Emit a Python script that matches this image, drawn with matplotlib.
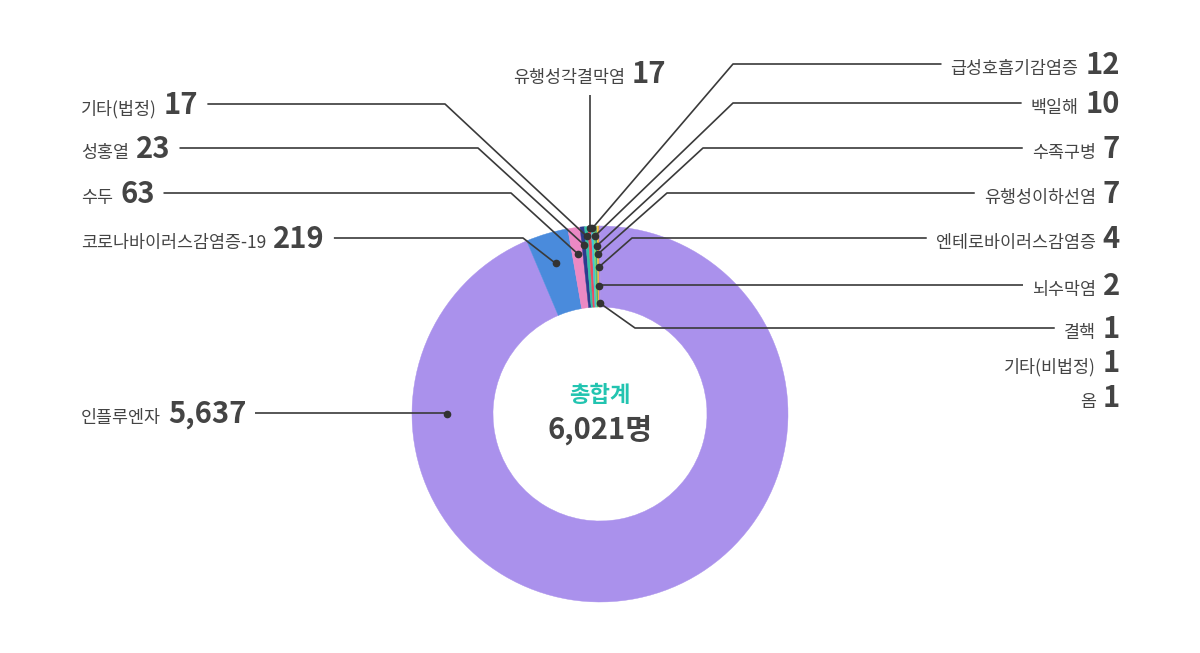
import numpy as np
import matplotlib.pyplot as plt

plt.rcParams['font.family'] = ['Noto Sans CJK KR', 'DejaVu Sans']

names = ['인플루엔자', '코로나바이러스감염증-19', '수두', '성홍열', '기타(법정)', '유행성각결막염',
         '급성호흡기감염증', '백일해', '수족구병', '유행성이하선염', '엔테로바이러스감염증',
         '뇌수막염', '결핵', '기타(비법정)', '옴']
counts = [5637, 219, 63, 23, 17, 17, 12, 10, 7, 7, 4, 2, 1, 1, 1]
colors = ['#aa91ec', '#4a8bdc', '#ec89c4', '#2d3b8e', '#35c2a5', '#ea4a5f',
          '#3cc8d6', '#7bd36b', '#2c9f80', '#f5c842', '#f39c3c', '#9bd44a',
          '#e8556a', '#5b6bd6', '#c9a3e8']
center_title = '총합계'
center_unit = '명'

# label layout (image pixel coords, y down)
side = ['left', 'left', 'left', 'left', 'left', 'top',
        'right', 'right', 'right', 'right', 'right', 'right', 'right', 'right', 'right']
row_y = [413, 238, 193, 148, 104, 73, 64, 103, 148, 193, 238, 285, 328, 362, 397]
elbow = [None, 523, 511, 478, 445, None, 733, 733, 703, 667, 632, None, 635, None, None]
dot_r = [153, 157, 162, 170, 178, 186, 186, 178, 168, 160, 147, 128, 111, None, None]

W, H = 1200, 653
cx, cy, R, ring = 600, 414, 188, 81
TXT = '#444444'
LN = '#3a3a3a'

fig = plt.figure(figsize=(W / 100, H / 100), dpi=100)
ax = fig.add_axes([0, 0, 1, 1])
wedges, _ = ax.pie(counts, colors=colors, startangle=90, counterclock=False,
                   radius=R, center=(cx, H - cy),
                   wedgeprops=dict(width=ring, linewidth=0.3, edgecolor='white'))
for w, c in zip(wedges, colors):
    w.set_edgecolor(c)
ax.set_xlim(0, W)
ax.set_ylim(0, H)
ax.axis('off')

rend = fig.canvas.get_renderer()


def ext(t):
    return t.get_window_extent(rend)


def label(i):
    nm = names[i]
    num = f'{counts[i]:,}'
    by = H - (row_y[i] + 10)
    if side[i] == 'left':
        t1 = ax.text(81, by, nm, fontsize=12.5, color=TXT, ha='left', va='baseline')
        t2 = ax.text(ext(t1).x1 + 7, by, num, fontsize=21, fontweight='bold',
                     color=TXT, ha='left', va='baseline')
        return ext(t2).x1 + 9
    if side[i] == 'right':
        t2 = ax.text(1120, by, num, fontsize=21, fontweight='bold',
                     color=TXT, ha='right', va='baseline')
        t1 = ax.text(ext(t2).x0 - 7, by, nm, fontsize=12.5, color=TXT,
                     ha='right', va='baseline')
        return ext(t1).x0 - 9
    return None


for i, w in enumerate(wedges):
    end = label(i)
    if dot_r[i] is None:
        continue
    ang = np.deg2rad((w.theta1 + w.theta2) / 2) if i != 0 else np.pi
    mx = cx + dot_r[i] * np.cos(ang)
    my = (H - cy) + dot_r[i] * np.sin(ang)
    if side[i] == 'top':
        by = H - (row_y[i] + 10)
        t1 = ax.text(0, by, names[i], fontsize=12.5, color=TXT, ha='left', va='baseline')
        t2 = ax.text(0, by, f'{counts[i]:,}', fontsize=21, fontweight='bold',
                     color=TXT, ha='left', va='baseline')
        w1 = ext(t1).width
        w2 = ext(t2).width
        x0 = mx - (w1 + 7 + w2) / 2
        t1.set_x(x0)
        t2.set_x(x0 + w1 + 7)
        xs, ys = [mx, mx], [H - 95, my]
    else:
        ly = H - row_y[i]
        ex = elbow[i] if elbow[i] is not None else mx
        xs, ys = [end, ex, mx], [ly, ly, my]
    ax.plot(xs, ys, color=LN, lw=1.2, solid_capstyle='butt', zorder=3)
    ax.plot(mx, my, 'o', color='#333333', ms=4.5, zorder=4)

ax.text(cx, H - 402, center_title, fontsize=16, fontweight='bold', color='#22c4b0',
        ha='center', va='baseline')
ax.text(cx, H - 440, f'{sum(counts):,}{center_unit}', fontsize=21, fontweight='bold',
        color=TXT, ha='center', va='baseline')

fig.savefig('out.png', dpi=100, facecolor='white')
